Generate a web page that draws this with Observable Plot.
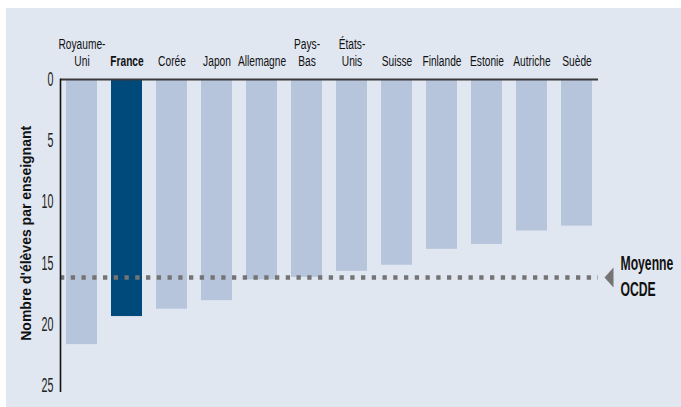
<!DOCTYPE html>
<html>
<head>
<meta charset="utf-8">
<script src="https://cdn.jsdelivr.net/npm/d3@7"></script>
<script src="https://cdn.jsdelivr.net/npm/@observablehq/plot@0.6"></script>
<style>
  html, body { margin: 0; padding: 0; background: #ffffff; }
  #panel { position: absolute; left: 6px; top: 8px; width: 675px; height: 399px; background: #e1e7f1; }
  #panel svg { display: block; }
</style>
</head>
<body>
<div id="panel"></div>
<script>
const countries = ["Royaume-Uni","France","Corée","Japon","Allemagne","Pays-Bas","États-Unis","Suisse","Finlande","Estonie","Autriche","Suède"];
const countryLabels = ["Royaume-\nUni","France","Corée","Japon","Allemagne","Pays-\nBas","États-\nUnis","Suisse","Finlande","Estonie","Autriche","Suède"];
const studentsPerTeacher = [21.7, 19.4, 18.8, 18.1, 16.4, 16.2, 15.7, 15.2, 13.9, 13.5, 12.4, 12.0];
const highlight = "France";
const oecdAverage = 16.2;
const oecdLabel = "Moyenne\nOCDE";
const yTicks = [0, 5, 10, 15, 20, 25];
const yTitle = "Nombre d'élèves par enseignant";

const rows = countries.map((c, i) => ({country: c, label: countryLabels[i], value: studentsPerTeacher[i]}));
const avgRow = [{v: oecdAverage, t: oecdLabel}];

const LIGHT = "#b7c5dc", DARK = "#004a7b", GREY = "#747474";

const leftTriangle = {
  draw(context, size) {
    const r = Math.sqrt(size / Math.PI);
    context.moveTo(-0.45 * r, 0);
    context.lineTo(0.45 * r, -r);
    context.lineTo(0.45 * r, r);
    context.closePath();
  }
};

const chart = Plot.plot({
  width: 675,
  height: 399,
  marginTop: 71,
  marginRight: 83,
  marginBottom: 16.4,
  marginLeft: 54,
  style: {background: "transparent", overflow: "visible", fontFamily: "'Liberation Sans', Arial, sans-serif", color: "#111"},
  x: {domain: countries, paddingInner: 0.311, paddingOuter: 0.133, axis: null},
  y: {domain: [0, 25.5], reverse: true, axis: null},
  marks: [
    Plot.barY(rows, {x: "country", y: "value", fill: d => d.country === highlight ? DARK : LIGHT}),
    Plot.ruleY(avgRow, {y: "v", stroke: GREY, strokeWidth: 4.4, strokeDasharray: "4.3 6.45"}),
    Plot.ruleY([0], {stroke: "#3a3a3a", strokeWidth: 2}),
    Plot.frame({anchor: "left", stroke: "#111", strokeWidth: 1.6}),
    Plot.axisY({ticks: yTicks, tickSize: 0, tickPadding: 7, fontSize: 21, label: null, fill: "#222"}),
    Plot.text(rows.filter(d => d.country !== highlight), {x: "country", text: "label", frameAnchor: "top", lineAnchor: "bottom", dy: -14, fontSize: 15, lineHeight: 1.13, fill: "#111"}),
    Plot.text(rows.filter(d => d.country === highlight), {x: "country", text: "label", frameAnchor: "top", lineAnchor: "bottom", dy: -14, fontSize: 15, lineHeight: 1.13, fontWeight: "bold", fill: "#111"}),
    Plot.text([yTitle], {frameAnchor: "left", textAnchor: "middle", rotate: -90, dx: -33.5, dy: -2, fontSize: 14, fontWeight: "bold", fill: "#111"}),
    Plot.dot(avgRow, {y: "v", frameAnchor: "right", dx: 10.5, r: 10, symbol: leftTriangle, fill: GREY, stroke: null}),
    Plot.text(avgRow, {y: "v", text: "t", frameAnchor: "right", textAnchor: "start", dx: 22, dy: -2.5, fontSize: 20, lineHeight: 1.3, fontWeight: "bold", fill: "#111"})
  ]
});

document.getElementById("panel").appendChild(chart);

// condense the narrow display typeface horizontally
const squeeze = {"15px": 0.68, "21px": 0.51, "20px": 0.61};
chart.querySelectorAll("text").forEach(t => {
  const fs = getComputedStyle(t).fontSize;
  const k = squeeze[fs];
  if (!k) return;
  const tr = t.getAttribute("transform");
  if (tr) t.setAttribute("transform", tr + ` scale(${k},1)`);
  else {
    const x = +t.getAttribute("x") || 0;
    t.removeAttribute("x");
    t.setAttribute("transform", `translate(${x},0) scale(${k},1)`);
  }
});
</script>
</body>
</html>
